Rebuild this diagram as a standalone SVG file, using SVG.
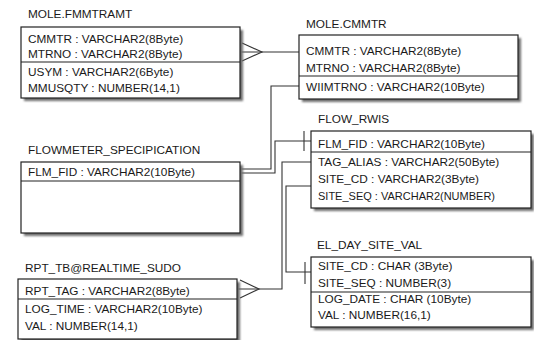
<svg xmlns="http://www.w3.org/2000/svg" width="534" height="340" viewBox="0 0 534 340">
<style>
.box{fill:#fff;stroke:#222;stroke-width:1.2}
.sh{fill:#6e6e6e;filter:url(#blur)}
.div{stroke:#222;stroke-width:1.2}
.t{font-family:"Liberation Sans",Arial,sans-serif;font-size:11.8px;fill:#1a1a1a}
.ttl{font-family:"Liberation Sans",Arial,sans-serif;font-size:11.8px;fill:#1a1a1a}
.c{fill:none;stroke:#333;stroke-width:1.1}
</style>
<defs>
<filter id="blur" x="-10%" y="-10%" width="120%" height="130%"><feGaussianBlur stdDeviation="1"/></filter>
</defs>
<rect width="534" height="340" fill="#fff"/>
<g id="connectors">
<path class="c" d="M240,52 H299"/>
<path class="c" d="M242,43 L262,52 L242,61"/>
<path class="c" d="M299,86 H271 V169 H240"/>
<path class="c" d="M311,141 H275 V173 H240"/>
<path class="c" d="M304,131 V151"/>
<path class="c" d="M311,162 H282 V289 H237"/>
<path class="c" d="M240,280 L259,289 L240,298"/>
<path class="c" d="M311,186 H286 V272 H311"/>
<path class="c" d="M305,262 V284"/>
</g>
<g id="fmmtramt">
<text class="ttl" x="28" y="18">MOLE.FMMTRAMT</text>
<rect class="sh" x="24" y="30" width="219" height="71"/>
<rect class="box" x="21" y="27" width="219" height="71"/>
<line class="div" x1="21" y1="62" x2="240" y2="62"/>
<text class="t" x="28" y="43">CMMTR : VARCHAR2(8Byte)</text>
<text class="t" x="28" y="58">MTRNO : VARCHAR2(8Byte)</text>
<text class="t" x="28" y="76">USYM : VARCHAR2(6Byte)</text>
<text class="t" x="28" y="92">MMUSQTY : NUMBER(14,1)</text>
</g>
<g id="cmmtr">
<text class="ttl" x="306" y="28">MOLE.CMMTR</text>
<rect class="sh" x="302" y="38" width="219" height="64"/>
<rect class="box" x="299" y="35" width="219" height="64"/>
<line class="div" x1="299" y1="76" x2="518" y2="76"/>
<text class="t" x="306" y="55">CMMTR : VARCHAR2(8Byte)</text>
<text class="t" x="306" y="72">MTRNO : VARCHAR2(8Byte)</text>
<text class="t" x="306" y="91">WIIMTRNO : VARCHAR2(10Byte)</text>
</g>
<g id="flowmeter">
<text class="ttl" x="28" y="154">FLOWMETER_SPECIPICATION</text>
<rect class="sh" x="24" y="165" width="219" height="71"/>
<rect class="box" x="21" y="162" width="219" height="71"/>
<line class="div" x1="21" y1="181" x2="240" y2="181"/>
<text class="t" x="28" y="176">FLM_FID : VARCHAR2(10Byte)</text>
</g>
<g id="flow_rwis">
<text class="ttl" x="318" y="123">FLOW_RWIS</text>
<rect class="sh" x="314" y="134" width="220" height="77"/>
<rect class="box" x="311" y="131" width="220" height="77"/>
<line class="div" x1="311" y1="152" x2="531" y2="152"/>
<text class="t" x="318" y="148">FLM_FID : VARCHAR2(10Byte)</text>
<text class="t" x="318" y="166">TAG_ALIAS : VARCHAR2(50Byte)</text>
<text class="t" x="318" y="183">SITE_CD : VARCHAR2(3Byte)</text>
<text class="t" x="318" y="200" textLength="177" lengthAdjust="spacingAndGlyphs">SITE_SEQ : VARCHAR2(NUMBER)</text>
</g>
<g id="el_day_site_val">
<text class="ttl" x="317" y="249">EL_DAY_SITE_VAL</text>
<rect class="sh" x="314" y="260" width="220" height="70"/>
<rect class="box" x="311" y="257" width="220" height="70"/>
<line class="div" x1="311" y1="292" x2="531" y2="292"/>
<text class="t" x="318" y="270">SITE_CD : CHAR (3Byte)</text>
<text class="t" x="318" y="287">SITE_SEQ : NUMBER(3)</text>
<text class="t" x="318" y="303">LOG_DATE : CHAR (10Byte)</text>
<text class="t" x="318" y="319">VAL : NUMBER(16,1)</text>
</g>
<g id="rpt_tb">
<text class="ttl" x="25" y="272">RPT_TB@REALTIME_SUDO</text>
<rect class="sh" x="21" y="282" width="219" height="62"/>
<rect class="box" x="18" y="279" width="219" height="60"/>
<line class="div" x1="18" y1="299" x2="237" y2="299"/>
<text class="t" x="25" y="295">RPT_TAG  : VARCHAR2(8Byte)</text>
<text class="t" x="25" y="313">LOG_TIME : VARCHAR2(10Byte)</text>
<text class="t" x="25" y="330">VAL : NUMBER(14,1)</text>
</g>
</svg>
